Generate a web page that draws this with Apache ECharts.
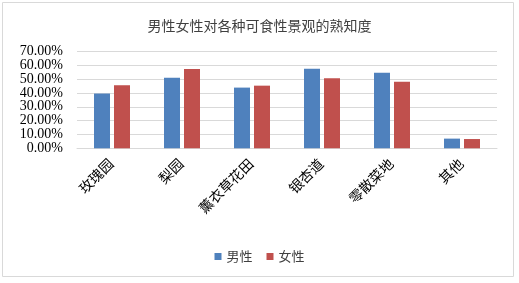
<!DOCTYPE html>
<html>
<head>
<meta charset="utf-8">
<script src="https://cdn.jsdelivr.net/npm/echarts@6/dist/echarts.min.js"></script>
<style>
    html, body { margin: 0; padding: 0; background: #fff; }
    #main { width: 519px; height: 283px; }
</style>
</head>
<body>
<div id="main"></div>
<script>
var categories = ['玫瑰园', '梨园', '薰衣草花田', '银杏道', '零散菜地', '其他'];
var maleValues = [0.396, 0.511, 0.439, 0.576, 0.547, 0.070];
var femaleValues = [0.456, 0.573, 0.453, 0.506, 0.482, 0.067];
var seriesNames = ['男性', '女性'];

var myChart = echarts.init(document.getElementById('main'));

var option = {
    animation: false,
    title: {
        text: '男性女性对各种可食性景观的熟知度',
        left: 'center',
        top: 14,
        textStyle: {
            fontFamily: 'Noto Sans CJK SC',
            fontSize: 14,
            fontWeight: 'normal',
            color: '#404040'
        }
    },
    graphic: [{
        type: 'rect',
        shape: {x: 2.5, y: 2.5, width: 511, height: 274},
        style: {fill: 'none', stroke: '#d9d9d9', lineWidth: 1}
    }],
    legend: {
        data: seriesNames,
        bottom: 15,
        left: 'center',
        itemWidth: 7,
        itemHeight: 7,
        itemGap: 14,
        icon: 'rect',
        textStyle: {
            fontFamily: 'Noto Sans CJK SC',
            fontSize: 13,
            color: '#404040'
        }
    },
    color: ['#4f81bd', '#c0504d'],
    grid: {
        left: 77,
        right: 22,
        top: 51.5,
        bottom: 134.7
    },
    xAxis: {
        type: 'category',
        data: categories,
        axisLine: {lineStyle: {color: '#d9d9d9'}},
        axisTick: {show: false},
        axisLabel: {
            rotate: 45,
            interval: 0,
            margin: 14,
            fontFamily: 'Liberation Serif, Noto Sans CJK SC',
            fontSize: 14,
            color: '#000'
        }
    },
    yAxis: {
        type: 'value',
        min: 0,
        max: 0.7,
        interval: 0.1,
        axisLine: {show: false},
        axisTick: {show: false},
        splitLine: {lineStyle: {color: '#d9d9d9'}},
        axisLabel: {
            margin: 14,
            fontFamily: 'Liberation Serif',
            fontSize: 14,
            color: '#000',
            formatter: function (v) {
                return (v * 100).toFixed(2) + '%';
            }
        }
    },
    series: [
        {
            name: seriesNames[0],
            type: 'bar',
            barWidth: 16,
            barGap: '25%',
            data: maleValues
        },
        {
            name: seriesNames[1],
            type: 'bar',
            barWidth: 16,
            data: femaleValues
        }
    ]
};
myChart.setOption(option);
</script>
</body>
</html>
